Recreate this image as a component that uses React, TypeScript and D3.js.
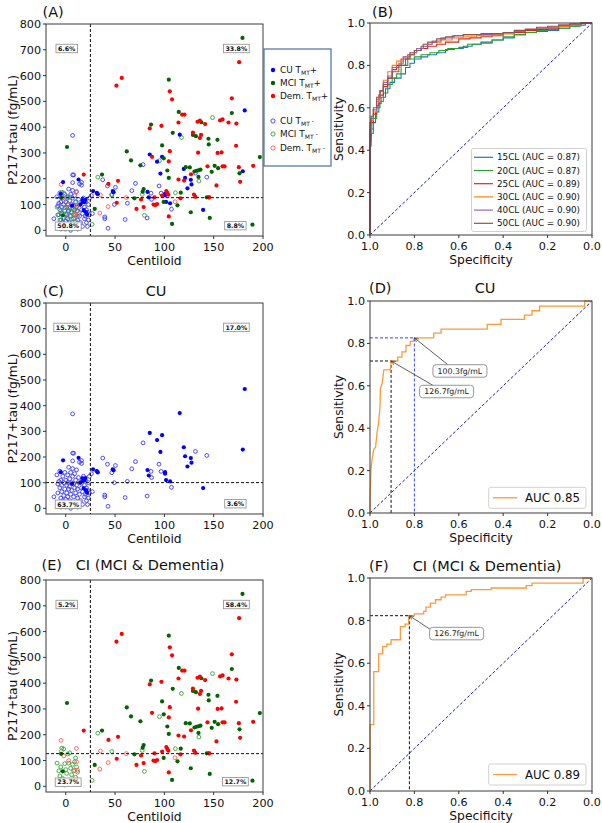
import React from 'react';
import * as d3 from 'd3';

const FONT = '"DejaVu Sans", sans-serif';
type P = [number, number];

// ---------- Scatter data [centiloid, p217+tau] ----------
const cuPos: P[] = [
  [-2.7, 187], [-5, 141], [13, 197], [17, 117], [17, 110], [19, 109], [20, 118], [18.3, 78], [20.6, 70], [21.6, 61],
  [6.4, 96], [15, 100], [27.7, 152], [31.5, 145], [32.5, 140], [47.7, 152], [48.5, 148], [82.9, 149], [84.2, 128],
  [85.2, 294], [92.6, 266], [96, 220], [97.7, 285], [100.7, 141], [100.7, 135], [101.7, 110], [105.8, 105],
  [115.6, 371], [119.7, 238], [121, 203], [123.4, 163], [126.8, 196], [127.5, 178], [139.3, 79], [179.5, 229], [181.5, 465],
];
const cuNeg: P[] = [
  [-12, 45], [-9, 130], [-8, 95], [-8, 60], [-7, 105], [-7, 20], [-6, 80], [-6, 145], [-5, 110], [-5, 40], [-5, 5],
  [-4, 90], [-4, 65], [-3, 125], [-3, 30], [-2, 100], [-2, 50], [-2, 15], [-1, 140], [-1, 75], [0, 110], [0, 35], [0, 5],
  [1, 90], [1, 60], [1, 20], [2, 130], [2, 100], [2, 45], [3, 160], [3, 75], [3, 10], [4, 115], [4, 85], [4, 30],
  [5, 140], [5, 55], [5, 0], [6, 100], [6, 70], [6, 25], [7, 215], [7, 185], [7, 155], [7, 125], [8, 95], [8, 45],
  [8, 10], [9, 135], [9, 80], [10, 110], [10, 60], [10, 20], [11, 150], [11, 90], [12, 40], [12, 75], [12, 5],
  [13, 120], [14, 100], [14, 55], [15, 30], [16, 175], [16, 80], [17, 65], [17, 15], [18, 125], [19, 90], [19, 45],
  [20, 110], [20, 55], [21, 30], [21, 80], [22, 70], [22, 15], [23, 100], [24, 60], [24, 125], [26, 135], [27, 65], [23, 40],
  [7, 368], [8, 215], [14, 180], [16, 186], [37.5, 196], [42.3, 172], [50.4, 167], [46.7, 139], [49.3, 100],
  [39.6, 52], [39.6, 45], [42.9, 8], [60.2, 42], [62.5, 105], [67, 154], [70.7, 182], [78.4, 255], [82.5, 48],
  [86.5, 144], [87, 120], [94.6, 172], [96.7, 144], [107.2, 82], [131.5, 222], [143, 206],
];
const mciPos: P[] = [
  [1.3, 323], [-4.7, 126], [-3, 58], [29.4, 83], [36.8, 216], [61.9, 306], [66.2, 271], [75.7, 252], [78, 150], [79, 160],
  [86.5, 410], [69.6, 124], [97.7, 329], [99.4, 279], [99.3, 110], [103, 232], [104.5, 203], [104.5, 584], [107.8, 25],
  [108.5, 378], [113.3, 97], [114.6, 459], [116.6, 146], [121.7, 245], [125.8, 244], [126.8, 70], [129, 370], [132, 365],
  [130.5, 228], [132.5, 231], [134.6, 233], [136.6, 235], [134.6, 207], [137.5, 419], [143, 128], [145, 128],
  [144.7, 355], [145, 333], [146, 48], [148, 227], [151, 250], [154.5, 241], [153.8, 351], [168.4, 455], [176.2, 221],
  [179.2, 746], [189.3, 22], [196.8, 284],
];
const demPos: P[] = [
  [18.3, 216], [43.3, 180], [53, 192], [51.4, 561], [56.8, 591], [85.2, 395], [87.5, 285], [51.7, 107], [71.7, 83],
  [79, 90], [76.4, 120], [89, 100], [91, 98], [90, 128], [92.6, 102], [97, 405], [97.7, 135], [102, 152],
  [103, 145], [104, 138], [104.5, 54], [104.5, 267], [105.5, 307], [105.5, 539], [107.8, 508], [114.3, 418], [114.3, 197],
  [116.3, 124], [118, 449], [120.4, 449], [120, 193], [127, 217], [129, 379], [130, 139], [131.5, 130], [133.6, 421],
  [136, 425], [137.2, 370], [136, 358], [134.2, 301], [141.3, 412], [143.7, 248], [145.5, 128], [152.8, 174], [154, 300],
  [158, 302], [156.5, 426], [159, 430], [159, 248], [161, 248], [165, 418], [168.4, 512], [172.7, 328], [173, 414],
  [175.5, 245], [175.8, 652], [176.8, 188], [190, 250],
];
const mciNeg: P[] = [
  [-8.8, 90], [-7, 60], [-6, 40], [-5, 75], [-4, 148], [-3, 30], [-2, 145], [-1, 88], [0, 65], [1, 50], [2, 125],
  [3, 90], [4, 130], [5, 70], [6, 45], [7, 85], [8, 60], [9, 95], [10, 110], [10, 35], [11, 75], [-6, 15], [2, 10],
  [7, 20], [12, 55], [26.7, 23], [32.5, 206], [46.7, 135], [77.6, 139], [79.8, 58], [95, 270], [111.2, 146],
  [117.3, 360], [135, 191], [148.8, 437],
];
const demNeg: P[] = [
  [-4.7, 178], [-4.3, 137], [10.8, 147], [3, 100], [-1.3, 5], [9, 62], [-2, 118], [11, 95], [12, 62],
  [35.2, 137], [43, 92], [34.5, 67], [61.5, 127], [110.8, 111],
];

const pctA = ['6.6%', '33.8%', '8.8%', '50.8%'];
const pctC = ['15.7%', '17.0%', '3.6%', '63.7%'];
const pctE = ['5.2%', '58.4%', '12.7%', '23.7%'];
const clCut = 25;
const cutAll = 126.7;
const cutCU = 100.3;

// ---------- ROC data [specificity, sensitivity] ----------
const roc15: P[] = [[1, 0], [1, 0.17], [0.995, 0.42], [0.985, 0.48], [0.975, 0.53], [0.96, 0.58], [0.95, 0.62], [0.93, 0.65], [0.91, 0.69], [0.89, 0.72], [0.86, 0.74], [0.84, 0.76], [0.82, 0.79], [0.8, 0.81], [0.77, 0.83], [0.74, 0.84], [0.7, 0.85], [0.66, 0.86], [0.62, 0.875], [0.58, 0.88], [0.54, 0.89], [0.5, 0.9], [0.45, 0.91], [0.4, 0.92], [0.35, 0.93], [0.3, 0.945], [0.25, 0.955], [0.2, 0.96], [0.15, 0.965], [0.1, 0.975], [0.06, 0.985], [0.03, 0.99], [0, 1]];
const roc20: P[] = [[1, 0], [1, 0.2], [0.995, 0.44], [0.985, 0.5], [0.97, 0.55], [0.955, 0.6], [0.94, 0.63], [0.92, 0.67], [0.9, 0.71], [0.88, 0.74], [0.86, 0.76], [0.83, 0.8], [0.8, 0.83], [0.77, 0.84], [0.73, 0.85], [0.69, 0.86], [0.65, 0.87], [0.6, 0.88], [0.56, 0.885], [0.5, 0.9], [0.45, 0.905], [0.4, 0.92], [0.35, 0.935], [0.3, 0.945], [0.25, 0.955], [0.2, 0.965], [0.15, 0.97], [0.1, 0.975], [0.05, 0.985], [0, 1]];
const roc25: P[] = [[1, 0], [1, 0.22], [0.995, 0.47], [0.985, 0.53], [0.97, 0.57], [0.96, 0.61], [0.94, 0.66], [0.92, 0.7], [0.9, 0.74], [0.88, 0.78], [0.86, 0.8], [0.83, 0.83], [0.8, 0.85], [0.77, 0.87], [0.74, 0.88], [0.7, 0.89], [0.66, 0.9], [0.6, 0.91], [0.55, 0.925], [0.5, 0.93], [0.45, 0.935], [0.4, 0.94], [0.35, 0.95], [0.3, 0.955], [0.25, 0.965], [0.2, 0.97], [0.15, 0.975], [0.1, 0.985], [0.05, 0.99], [0, 1]];
const roc30: P[] = [[1, 0], [1, 0.2], [0.995, 0.48], [0.985, 0.54], [0.97, 0.58], [0.955, 0.63], [0.94, 0.68], [0.92, 0.73], [0.9, 0.77], [0.88, 0.8], [0.85, 0.82], [0.82, 0.84], [0.79, 0.86], [0.76, 0.88], [0.72, 0.9], [0.68, 0.91], [0.63, 0.92], [0.58, 0.93], [0.52, 0.935], [0.45, 0.94], [0.4, 0.945], [0.35, 0.95], [0.3, 0.96], [0.25, 0.97], [0.2, 0.975], [0.15, 0.98], [0.1, 0.985], [0.05, 0.99], [0, 1]];
const roc40: P[] = [[1, 0], [1, 0.25], [0.995, 0.5], [0.985, 0.55], [0.97, 0.59], [0.955, 0.64], [0.94, 0.68], [0.92, 0.72], [0.9, 0.75], [0.87, 0.79], [0.85, 0.81], [0.82, 0.84], [0.79, 0.86], [0.76, 0.88], [0.72, 0.9], [0.68, 0.915], [0.63, 0.93], [0.58, 0.94], [0.52, 0.945], [0.45, 0.945], [0.4, 0.95], [0.35, 0.955], [0.3, 0.96], [0.25, 0.97], [0.2, 0.975], [0.15, 0.98], [0.1, 0.99], [0.05, 0.995], [0, 1]];
const roc50: P[] = [[1, 0], [1, 0.28], [0.995, 0.53], [0.985, 0.56], [0.97, 0.6], [0.955, 0.65], [0.94, 0.68], [0.92, 0.71], [0.9, 0.74], [0.87, 0.77], [0.84, 0.8], [0.82, 0.83], [0.8, 0.85], [0.77, 0.87], [0.74, 0.89], [0.7, 0.91], [0.66, 0.925], [0.62, 0.935], [0.58, 0.94], [0.5, 0.945], [0.45, 0.95], [0.4, 0.95], [0.35, 0.955], [0.3, 0.965], [0.25, 0.97], [0.2, 0.98], [0.15, 0.985], [0.1, 0.99], [0.05, 0.995], [0, 1]];
const rocNames = ['15CL (AUC = 0.87)', '20CL (AUC = 0.87)', '25CL (AUC = 0.89)', '30CL (AUC = 0.90)', '40CL (AUC = 0.90)', '50CL (AUC = 0.90)'];
const rocColors = ['#1f77b4', '#2ca02c', '#d62728', '#ff7f0e', '#9467bd', '#8c564b'];

const rocCU: P[] = [[1, 0], [1, 0.04], [0.996, 0.2], [0.991, 0.25], [0.983, 0.3], [0.975, 0.31], [0.968, 0.38], [0.961, 0.43], [0.955, 0.5], [0.953, 0.59], [0.945, 0.61], [0.938, 0.675], [0.908, 0.675], [0.905, 0.717], [0.875, 0.717], [0.875, 0.735], [0.856, 0.735], [0.856, 0.76], [0.838, 0.76], [0.838, 0.79], [0.82, 0.79], [0.818, 0.81], [0.806, 0.81], [0.8, 0.826], [0.713, 0.826], [0.713, 0.848], [0.68, 0.848], [0.68, 0.867], [0.472, 0.867], [0.472, 0.89], [0.41, 0.89], [0.41, 0.913], [0.304, 0.913], [0.304, 0.933], [0.27, 0.933], [0.27, 0.954], [0.236, 0.954], [0.236, 0.976], [0.033, 0.976], [0.033, 1], [0, 1]];
const rocCI: P[] = [[1, 0], [1, 0.312], [0.983, 0.312], [0.983, 0.56], [0.961, 0.56], [0.961, 0.644], [0.943, 0.644], [0.943, 0.678], [0.924, 0.678], [0.924, 0.69], [0.905, 0.69], [0.905, 0.71], [0.863, 0.71], [0.863, 0.772], [0.842, 0.772], [0.842, 0.783], [0.826, 0.783], [0.826, 0.823], [0.8, 0.823], [0.8, 0.832], [0.758, 0.832], [0.758, 0.843], [0.748, 0.843], [0.748, 0.863], [0.728, 0.863], [0.728, 0.882], [0.705, 0.882], [0.705, 0.898], [0.68, 0.898], [0.68, 0.91], [0.66, 0.91], [0.66, 0.921], [0.567, 0.921], [0.567, 0.937], [0.544, 0.937], [0.544, 0.945], [0.454, 0.945], [0.454, 0.953], [0.296, 0.953], [0.296, 0.964], [0.27, 0.964], [0.27, 0.976], [0.04, 0.976], [0.04, 1], [0, 1]];
const cuOpt1: P = [0.8, 0.826];
const cuOpt2: P = [0.905, 0.717];
const ciOpt: P = [0.8225, 0.823];

type Box = { x0: number; x1: number; y0: number; y1: number };

const C_BLUE = '#0000ff', C_GREEN = '#006400', C_RED = '#ff0000';
const H_BLUE = '#3a3aff', H_GREEN = '#36a336', H_RED = '#ff5a5a';

function pctWidth(s: string, fs: number) {
  let w = 0;
  for (const c of s) w += c === '.' ? 0.38 : c === '%' ? 1.0 : 0.696;
  return w * fs;
}

function PctBox({ x, y, t }: { x: number; y: number; t: string }) {
  const fs = 6.3;
  const w = pctWidth(t, fs) + 4;
  return (
    <g>
      <rect x={x - w / 2} y={y - 4.2} width={w} height={8.4} fill="white" stroke="#999" strokeWidth={0.9} />
      <text x={x} y={y + 2.3} textAnchor="middle" fontSize={fs} fontWeight="bold" fontFamily={FONT} fill="#111">{t}</text>
    </g>
  );
}

function Frame({ b }: { b: Box }) {
  return <rect x={b.x0} y={b.y0} width={b.x1 - b.x0} height={b.y1 - b.y0} fill="none" stroke="#3a3a3a" strokeWidth={1} />;
}

function Titles({ tag, tagX, title, titleX, y }: { tag: string; tagX: number; title?: string; titleX?: number; y: number }) {
  return (
    <g fontFamily={FONT} fontSize={14.5} fill="#111">
      <text x={tagX} y={y}>{tag}</text>
      {title && <text x={titleX} y={y} textAnchor="middle">{title}</text>}
    </g>
  );
}

type Group = { pts: P[]; color: string; filled: boolean };

const TICK_FS = 11.2;
const LABEL_FS = 12.3;
const TICK_DY = 15;
const LABEL_DY = 28.5;

function ScatterPanel({ b, groups, hcut, pcts }: { b: Box; groups: Group[]; hcut: number; pcts: string[] }) {
  const x = d3.scaleLinear().domain([-20, 200]).range([b.x0, b.x1]);
  const y = d3.scaleLinear().domain([-22, 800]).range([b.y1, b.y0]);
  const cy = (b.y0 + b.y1) / 2;
  return (
    <g>
      <rect x={b.x0} y={b.y0} width={b.x1 - b.x0} height={b.y1 - b.y0} fill="white" />
      {groups.map((g, gi) => (
        <g key={gi}>
          {g.pts.map((p, i) =>
            g.filled ? (
              <circle key={i} cx={x(p[0])} cy={y(p[1])} r={2.1} fill={g.color} />
            ) : (
              <circle key={i} cx={x(p[0])} cy={y(p[1])} r={1.9} fill="none" stroke={g.color} strokeWidth={0.9} />
            )
          )}
        </g>
      ))}
      <line x1={x(clCut)} x2={x(clCut)} y1={b.y0} y2={b.y1} stroke="#111" strokeWidth={1} strokeDasharray="3,2" />
      <line x1={b.x0} x2={b.x1} y1={y(hcut)} y2={y(hcut)} stroke="#111" strokeWidth={1} strokeDasharray="3,2" />
      <PctBox x={x(1)} y={y(705)} t={pcts[0]} />
      <PctBox x={x(173)} y={y(705)} t={pcts[1]} />
      <PctBox x={x(172)} y={y(18)} t={pcts[2]} />
      <PctBox x={x(2.5)} y={y(16)} t={pcts[3]} />
      <Frame b={b} />
      <g fontFamily={FONT} fontSize={TICK_FS} fill="#111">
        {y.ticks(8).map((t) => (
          <g key={'y' + t}>
            <line x1={b.x0 - 3} x2={b.x0} y1={y(t)} y2={y(t)} stroke="#333" />
            <text x={b.x0 - 5} y={y(t) + 4} textAnchor="end">{t}</text>
          </g>
        ))}
        {x.ticks(5).map((t) => (
          <g key={'x' + t}>
            <line x1={x(t)} x2={x(t)} y1={b.y1} y2={b.y1 + 3} stroke="#333" />
            <text x={x(t)} y={b.y1 + TICK_DY} textAnchor="middle">{t}</text>
          </g>
        ))}
      </g>
      <text x={(b.x0 + b.x1) / 2} y={b.y1 + LABEL_DY} textAnchor="middle" fontFamily={FONT} fontSize={LABEL_FS} fill="#111">Centiloid</text>
      <text transform={`translate(${13},${cy}) rotate(-90)`} textAnchor="middle" dominantBaseline="central" fontFamily={FONT} fontSize={LABEL_FS} fill="#111">P217+tau (fg/mL)</text>
    </g>
  );
}

function RocAxes({ b, children }: { b: Box; children?: React.ReactNode }) {
  const x = d3.scaleLinear().domain([1, 0]).range([b.x0, b.x1]);
  const y = d3.scaleLinear().domain([0, 1]).range([b.y1, b.y0]);
  const ticks = d3.range(0, 1.0001, 0.2);
  return (
    <g>
      <rect x={b.x0} y={b.y0} width={b.x1 - b.x0} height={b.y1 - b.y0} fill="white" />
      <line x1={x(1)} y1={y(0)} x2={x(0)} y2={y(1)} stroke="#1a1aa8" strokeWidth={1} strokeDasharray="3,2" />
      {children}
      <Frame b={b} />
      <g fontFamily={FONT} fontSize={TICK_FS} fill="#111">
        {ticks.map((t) => (
          <g key={'y' + t}>
            <line x1={b.x0 - 3} x2={b.x0} y1={y(t)} y2={y(t)} stroke="#333" />
            <text x={b.x0 - 5} y={y(t) + 4} textAnchor="end">{t.toFixed(1)}</text>
          </g>
        ))}
        {ticks.map((t) => (
          <g key={'x' + t}>
            <line x1={x(t)} x2={x(t)} y1={b.y1} y2={b.y1 + 3} stroke="#333" />
            <text x={x(t)} y={b.y1 + TICK_DY} textAnchor="middle">{t.toFixed(1)}</text>
          </g>
        ))}
      </g>
      <text x={(b.x0 + b.x1) / 2} y={b.y1 + LABEL_DY} textAnchor="middle" fontFamily={FONT} fontSize={LABEL_FS} fill="#111">Specificity</text>
      <text transform={`translate(${339},${(b.y0 + b.y1) / 2}) rotate(-90)`} textAnchor="middle" dominantBaseline="central" fontFamily={FONT} fontSize={LABEL_FS} fill="#111">Sensitivity</text>
    </g>
  );
}

function rocScales(b: Box) {
  return {
    x: d3.scaleLinear().domain([1, 0]).range([b.x0, b.x1]),
    y: d3.scaleLinear().domain([0, 1]).range([b.y1, b.y0]),
  };
}

function AnnBox({ cx, cy, t }: { cx: number; cy: number; t: string }) {
  const w = 54, h = 12.5;
  return (
    <g>
      <rect x={cx - w / 2} y={cy - h / 2} width={w} height={h} rx={3} fill="white" stroke="#8a8a8a" strokeWidth={0.9} />
      <text x={cx} y={cy + 2.8} textAnchor="middle" fontFamily={FONT} fontSize={7.8} fill="#222">{t}</text>
    </g>
  );
}

const bA: Box = { x0: 46, x1: 263, y0: 24, y1: 236 };
const bB: Box = { x0: 370, x1: 592, y0: 23, y1: 235 };
const bC: Box = { x0: 46, x1: 263, y0: 303, y1: 514 };
const bD: Box = { x0: 370, x1: 592, y0: 301, y1: 513 };
const bE: Box = { x0: 46, x1: 263, y0: 580, y1: 792 };
const bF: Box = { x0: 370, x1: 592, y0: 578, y1: 791 };

function LegendLabel({ x, y, grp, sign }: { x: number; y: number; grp: string; sign: string }) {
  const fs = 8.9;
  return (
    <text x={x} y={y} fontFamily={FONT} fontSize={fs} fill="#111">
      {grp} T<tspan fontSize={6} dy={2.3}>MT</tspan>
      <tspan dy={sign === '+' ? -2.3 : -3.3} fontSize={sign === '+' ? fs : 6.3}>{sign === '+' ? '+' : ' -'}</tspan>
    </text>
  );
}

export default function App() {
  const step = d3.line<P>().curve(d3.curveStepBefore);
  const lin = d3.line<P>();
  const sB = rocScales(bB);
  const sD = rocScales(bD);
  const sF = rocScales(bF);
  const rocSets = [roc15, roc20, roc25, roc30, roc40, roc50];
  const legA = [
    { c: C_BLUE, f: true, g: 'CU', s: '+' },
    { c: C_GREEN, f: true, g: 'MCI', s: '+' },
    { c: C_RED, f: true, g: 'Dem.', s: '+' },
    { c: H_BLUE, f: false, g: 'CU', s: '-' },
    { c: H_GREEN, f: false, g: 'MCI', s: '-' },
    { c: H_RED, f: false, g: 'Dem.', s: '-' },
  ];
  const legAY = [73, 86, 99, 124, 137, 151];
  const ORANGE = '#fb9a3a';

  const d1 = [sD.x(cuOpt1[0]), sD.y(cuOpt1[1])];
  const d2 = [sD.x(cuOpt2[0]), sD.y(cuOpt2[1])];
  const f1 = [sF.x(ciOpt[0]), sF.y(ciOpt[1])];
  const ann1 = { cx: sD.x(0.595), cy: sD.y(0.67) };
  const ann2 = { cx: sD.x(0.655), cy: sD.y(0.573) };
  const ann3 = { cx: sF.x(0.61), cy: sF.y(0.739) };

  return (
    <svg width={602} height={823} style={{ display: 'block', position: 'absolute', left: 0, top: 0, background: 'white' }}>
      <defs>
        <marker id="arr" viewBox="0 0 10 10" refX="9" refY="5" markerWidth="6" markerHeight="6" orient="auto-start-reverse">
          <path d="M0,1 L9,5 L0,9" fill="none" stroke="#333" strokeWidth={1.3} />
        </marker>
      </defs>
      <rect width={602} height={823} fill="white" />

      {/* Panel A */}
      <ScatterPanel
        b={bA}
        hcut={cutAll}
        pcts={pctA}
        groups={[
          { pts: cuNeg, color: H_BLUE, filled: false },
          { pts: mciNeg, color: H_GREEN, filled: false },
          { pts: demNeg, color: H_RED, filled: false },
          { pts: cuPos, color: C_BLUE, filled: true },
          { pts: mciPos, color: C_GREEN, filled: true },
          { pts: demPos, color: C_RED, filled: true },
        ]}
      />
      <Titles tag="(A)" tagX={42.5} y={17} />
      <g>
        <rect x={264} y={49} width={67} height={117} fill="white" stroke="#4a6fa5" strokeWidth={1.2} />
        {legA.map((l, i) => (
          <g key={i}>
            {l.f ? (
              <circle cx={273} cy={legAY[i] - 3} r={2.2} fill={l.c} />
            ) : (
              <circle cx={273} cy={legAY[i] - 3} r={2.1} fill="none" stroke={l.c} strokeWidth={0.9} />
            )}
            <LegendLabel x={280} y={legAY[i]} grp={l.g} sign={l.s} />
          </g>
        ))}
      </g>

      {/* Panel B */}
      <RocAxes b={bB}>
        {rocSets.map((r, i) => (
          <path key={i} d={step(r.map((p) => [sB.x(p[0]), sB.y(p[1])] as P)) || ''} fill="none" stroke={rocColors[i]} strokeWidth={1.1} />
        ))}
        <rect x={471.5} y={148.5} width={115} height={83} rx={2} fill="white" fillOpacity={0.85} stroke="#cccccc" strokeWidth={0.9} />
        {rocNames.map((n, i) => (
          <g key={n}>
            <line x1={474} x2={493} y1={157.3 + i * 13.2} y2={157.3 + i * 13.2} stroke={rocColors[i]} strokeWidth={1.2} />
            <text x={497} y={157.3 + i * 13.2 + 3.1} fontFamily={FONT} fontSize={8.8} fill="#111">{n}</text>
          </g>
        ))}
      </RocAxes>
      <Titles tag="(B)" tagX={372} y={17} />

      {/* Panel C */}
      <ScatterPanel
        b={bC}
        hcut={cutCU}
        pcts={pctC}
        groups={[
          { pts: cuNeg, color: H_BLUE, filled: false },
          { pts: cuPos, color: C_BLUE, filled: true },
        ]}
      />
      <Titles tag="(C)" tagX={42.5} title="CU" titleX={156} y={296} />

      {/* Panel D */}
      <RocAxes b={bD}>
        <path d={`M${sD.x(1)},${d1[1]}H${d1[0]}V${sD.y(0)}`} fill="none" stroke="#3344ff" strokeWidth={1} strokeDasharray="3,2" />
        <path d={`M${sD.x(1)},${d2[1]}H${d2[0]}V${sD.y(0)}`} fill="none" stroke="#111" strokeWidth={1} strokeDasharray="3,2" />
        <path d={lin(rocCU.map((p) => [sD.x(p[0]), sD.y(p[1])] as P)) || ''} fill="none" stroke={ORANGE} strokeWidth={1.3} />
        <line x1={ann1.cx - 12} y1={ann1.cy - 6.2} x2={d1[0]} y2={d1[1]} stroke="#333" strokeWidth={0.8} markerEnd="url(#arr)" />
        <line x1={ann2.cx - 13} y1={ann2.cy - 5.8} x2={d2[0]} y2={d2[1]} stroke="#333" strokeWidth={0.8} markerEnd="url(#arr)" />
        <AnnBox cx={ann1.cx} cy={ann1.cy} t="100.3fg/mL" />
        <AnnBox cx={ann2.cx} cy={ann2.cy} t="126.7fg/mL" />
        <rect x={488.7} y={487.3} width={97.3} height={21} rx={2} fill="white" stroke="#cccccc" strokeWidth={0.9} />
        <line x1={493} x2={517} y1={497.8} y2={497.8} stroke={ORANGE} strokeWidth={1.3} />
        <text x={525} y={502} fontFamily={FONT} fontSize={11.8} fill="#111">AUC 0.85</text>
      </RocAxes>
      <Titles tag="(D)" tagX={369} title="CU" titleX={485} y={293} />

      {/* Panel E */}
      <ScatterPanel
        b={bE}
        hcut={cutAll}
        pcts={pctE}
        groups={[
          { pts: mciNeg, color: H_GREEN, filled: false },
          { pts: demNeg, color: H_RED, filled: false },
          { pts: mciPos, color: C_GREEN, filled: true },
          { pts: demPos, color: C_RED, filled: true },
        ]}
      />
      <Titles tag="(E)" tagX={41.5} title="CI (MCI & Dementia)" titleX={150} y={570} />

      {/* Panel F */}
      <RocAxes b={bF}>
        <path d={`M${sF.x(1)},${f1[1]}H${f1[0]}V${sF.y(0)}`} fill="none" stroke="#111" strokeWidth={1} strokeDasharray="3,2" />
        <path d={lin(rocCI.map((p) => [sF.x(p[0]), sF.y(p[1])] as P)) || ''} fill="none" stroke={ORANGE} strokeWidth={1.3} />
        <line x1={ann3.cx - 26} y1={ann3.cy - 4} x2={f1[0]} y2={f1[1]} stroke="#333" strokeWidth={0.8} markerEnd="url(#arr)" />
        <AnnBox cx={ann3.cx} cy={ann3.cy} t="126.7fg/mL" />
        <rect x={488.7} y={764} width={97.3} height={21} rx={2} fill="white" stroke="#cccccc" strokeWidth={0.9} />
        <line x1={493} x2={517} y1={774.5} y2={774.5} stroke={ORANGE} strokeWidth={1.3} />
        <text x={525} y={778.7} fontFamily={FONT} fontSize={11.8} fill="#111">AUC 0.89</text>
      </RocAxes>
      <Titles tag="(F)" tagX={369} title="CI (MCI & Dementia)" titleX={487} y={571} />
    </svg>
  );
}
